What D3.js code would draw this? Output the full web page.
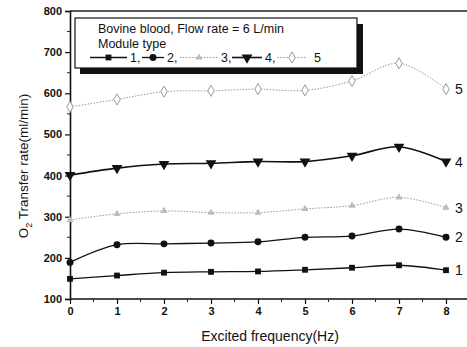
<!DOCTYPE html>
<html>
<head>
<meta charset="utf-8">
<script src="https://cdn.jsdelivr.net/npm/d3@7"></script>
<style>
  body { margin: 0; background: #fff; }
  text { font-family: "Liberation Sans", Arial, sans-serif; fill: #111; }
</style>
</head>
<body>
<div id="chart"></div>
<script>
const frequencies = [0, 1, 2, 3, 4, 5, 6, 7, 8];
const module1 = [149, 157, 164, 166, 167, 171, 176, 182, 170];
const module2 = [189, 232, 234, 236, 239, 250, 253, 270, 250];
const module3 = [292, 307, 314, 310, 310, 319, 327, 347, 322];
const module4 = [401, 418, 428, 430, 434, 434, 448, 470, 434];
const module5 = [567, 585, 604, 606, 610, 607, 630, 673, 610];
const seriesNames = ["1", "2", "3", "4", "5"];
const xTicks = [0, 1, 2, 3, 4, 5, 6, 7, 8];
const yTicks = [100, 200, 300, 400, 500, 600, 700, 800];

const width = 467, height = 347;
const margin = { top: 11, right: 21, bottom: 48, left: 70 };

const svg = d3.select("#chart").append("svg")
    .attr("width", width)
    .attr("height", height);

const x = d3.scaleLinear().domain([0, 8]).range([margin.left, 446]);
const y = d3.scaleLinear().domain([100, 800]).range([299, margin.top]);

// frame top line (right edge is cropped in the original)
svg.append("line")
    .attr("x1", margin.left).attr("x2", width)
    .attr("y1", y(800)).attr("y2", y(800))
    .attr("stroke", "#222").attr("stroke-width", 1.5);

// axes
const xAxis = svg.append("g")
    .attr("transform", `translate(0,${y(100)})`)
    .call(d3.axisBottom(x).tickValues(xTicks).tickFormat(d3.format("d")).tickSize(5).tickPadding(3));
xAxis.select(".domain").attr("d", `M${margin.left},0H${width}`);

xAxis.selectAll(".minor")
    .data(d3.range(0.5, 8.6, 1))
    .enter().append("line")
    .attr("class", "minor")
    .attr("x1", d => x(d)).attr("x2", d => x(d))
    .attr("y1", 0).attr("y2", 3)
    .attr("stroke", "#222");

const yAxis = svg.append("g")
    .attr("transform", `translate(${margin.left},0)`)
    .call(d3.axisLeft(y).tickValues(yTicks).tickFormat(d3.format("d")).tickSize(5).tickPadding(3));

yAxis.selectAll(".minor")
    .data(d3.range(150, 800, 100))
    .enter().append("line")
    .attr("class", "minor")
    .attr("y1", d => y(d)).attr("y2", d => y(d))
    .attr("x1", 0).attr("x2", -3)
    .attr("stroke", "#222");

svg.selectAll(".domain").attr("stroke", "#111").attr("stroke-width", 1.6);
svg.selectAll(".tick line").attr("stroke", "#111").attr("stroke-width", 1.2);
svg.selectAll(".tick text")
    .attr("font-size", 11)
    .attr("font-weight", "bold")
    .attr("font-family", "'Liberation Sans', Arial, sans-serif")
    .attr("fill", "#111");

// axis titles
svg.append("text")
    .attr("x", 270)
    .attr("y", 341)
    .attr("text-anchor", "middle")
    .attr("font-size", 14)
    .text("Excited frequency(Hz)");

const yTitle = svg.append("text")
    .attr("transform", `translate(28,166) rotate(-90)`)
    .attr("text-anchor", "middle")
    .attr("font-size", 13.5);
yTitle.append("tspan").text("O");
yTitle.append("tspan").attr("font-size", 9).attr("dy", 4).text("2");
yTitle.append("tspan").attr("dy", -4).text(" Transfer rate(ml/min)");

// series
const seriesData = [module1, module2, module3, module4, module5];
const styles = [
    { color: "#111", width: 1.3, dash: null, symbol: d3.symbolSquare, size: 34, fill: "#111" },
    { color: "#111", width: 1.3, dash: null, symbol: d3.symbolCircle, size: 38, fill: "#111" },
    { color: "#999", width: 1, dash: "1.5,1.5", symbol: d3.symbolTriangle, size: 22, fill: "#bbb" },
    { color: "#111", width: 1.6, dash: null, symbol: d3.symbolTriangle, size: 50, fill: "#111", rotate: 180 },
    { color: "#999", width: 1, dash: "1.5,1.5", symbol: d3.symbolDiamond, size: 36, fill: "#fff" }
];

const line = d3.line()
    .x((d, i) => x(frequencies[i]))
    .y(d => y(d))
    .curve(d3.curveCatmullRom.alpha(0.5));

seriesData.forEach((vals, si) => {
    const s = styles[si];
    svg.append("path")
        .datum(vals)
        .attr("d", line)
        .attr("fill", "none")
        .attr("stroke", s.color)
        .attr("stroke-width", s.width)
        .attr("stroke-dasharray", s.dash);

    svg.selectAll(".pt" + si)
        .data(vals)
        .enter().append("path")
        .attr("class", "pt" + si)
        .attr("d", d3.symbol().type(s.symbol).size(s.size))
        .attr("transform", (d, i) => `translate(${x(frequencies[i])},${y(d)}) rotate(${s.rotate || 0})`)
        .attr("fill", s.fill)
        .attr("stroke", s.fill === "#fff" ? "#999" : "none")
        .attr("stroke-width", 1);

    svg.append("text")
        .attr("x", 455)
        .attr("y", y(vals[vals.length - 1]) + 5)
        .attr("font-size", 14)
        .text(seriesNames[si]);
});

// legend box with heavy shadow
const lg = svg.append("g");
lg.append("rect")
    .attr("x", 80).attr("y", 24)
    .attr("width", 283).attr("height", 50)
    .attr("fill", "#111");
lg.append("rect")
    .attr("x", 75).attr("y", 18)
    .attr("width", 282).attr("height", 50)
    .attr("fill", "#fff")
    .attr("stroke", "#111")
    .attr("stroke-width", 1.2);
lg.append("text").attr("x", 98).attr("y", 33).attr("font-size", 12.5)
    .text("Bovine blood, Flow rate = 6 L/min");
lg.append("text").attr("x", 98).attr("y", 47.5).attr("font-size", 12.5)
    .text("Module type");

// legend sample line start / end / label positions
const legendStart = [90, 142, 180, 232, 277];
const legendEnd = [127, 164, 218, 262, 307];
seriesNames.forEach((name, si) => {
    const s = styles[si];
    const x1 = legendStart[si], x2 = legendEnd[si], ly = 57.5;
    lg.append("line")
        .attr("x1", x1).attr("x2", x2)
        .attr("y1", ly).attr("y2", ly)
        .attr("stroke", s.color)
        .attr("stroke-width", s.width)
        .attr("stroke-dasharray", s.dash);
    lg.append("path")
        .attr("d", d3.symbol().type(s.symbol).size(s.size)())
        .attr("transform", `translate(${(x1 + x2) / 2},${ly}) rotate(${s.rotate || 0})`)
        .attr("fill", s.fill)
        .attr("stroke", s.fill === "#fff" ? "#999" : "none");
    lg.append("text")
        .attr("x", x2 + (si === 4 ? 7 : 3)).attr("y", ly + 4.5)
        .attr("font-size", 12.5)
        .text(name + (si < 4 ? "," : ""));
});
</script>
</body>
</html>
